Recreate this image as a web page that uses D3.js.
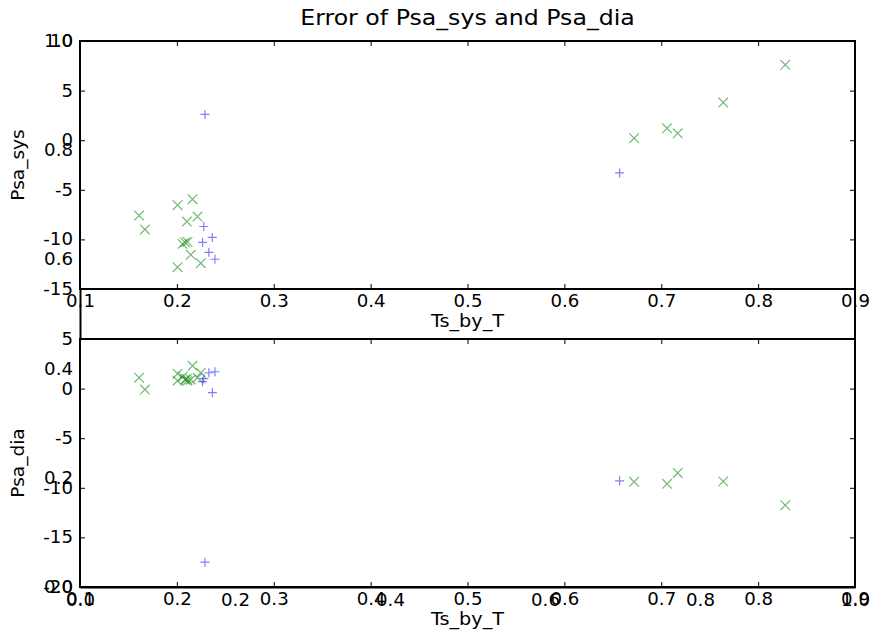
<!DOCTYPE html>
<html>
<head>
<meta charset="utf-8">
<script src="https://cdn.jsdelivr.net/npm/d3@7"></script>
<style>
  body { margin: 0; background: #fff; }
  svg text { font-family: "DejaVu Sans", sans-serif; fill: #000; }
  /* the reference text is a little wider than DejaVu renders it */
  svg text.wideR { transform-box: fill-box; transform-origin: right center; transform: scaleX(1.07); }
  svg text.wideC { transform-box: fill-box; transform-origin: center center; transform: scaleX(1.07); }
  svg text.wideT { transform-box: fill-box; transform-origin: center center; transform: scaleX(1.1); }
</style>
</head>
<body>
<div id="chart"></div>
<script>
// Data
const blueX   = [0.2265, 0.2278, 0.229, 0.233, 0.2366, 0.2393, 0.657];
const blueSys = [-10.3, -8.7, 2.6, -11.3, -9.8, -12.0, -3.3];
const blueDia = [0.7, 1.0, -17.5, 1.6, -0.4, 1.7, -9.3];

const greenX   = [0.161, 0.167, 0.2007, 0.2007, 0.2059, 0.2085, 0.2103, 0.211, 0.2144, 0.2162, 0.2213, 0.2247, 0.672, 0.706, 0.717, 0.764, 0.828];
const greenSys = [-7.6, -9.0, -6.55, -12.8, -10.45, -10.3, -8.2, -10.25, -11.55, -5.95, -7.7, -12.4, 0.2, 1.2, 0.7, 3.8, 7.6];
const greenDia = [1.1, -0.1, 1.5, 0.8, 1.2, 0.9, 1.0, 0.8, 0.9, 2.3, 1.1, 1.6, -9.4, -9.6, -8.5, -9.35, -11.75];

const xTicks = [0.1, 0.2, 0.3, 0.4, 0.5, 0.6, 0.7, 0.8, 0.9];
const sysTicks = [-15, -10, -5, 0, 5, 10];
const diaTicks = [-20, -15, -10, -5, 0, 5];
const figTicks = [0, 0.2, 0.4, 0.6, 0.8, 1.0];

const width = 871;
const height = 637;
const left = 80, right = 855;
const tickFont = "17px";

// plain hyphen minus like the reference
const intFmt = d => String(d);

const svg = d3.select("#chart")
  .append("svg")
  .attr("width", width)
  .attr("height", height);

const xScale = d3.scaleLinear().domain([0.1, 0.9]).range([left, right]);

// figure level axes that sits behind both subplots (0..1 on both sides)
const figX = d3.scaleLinear().domain([0, 1]).range([left, right]);
const figY = d3.scaleLinear().domain([0, 1]).range([587, 41]);

svg.append("g")
  .attr("transform", `translate(${left},0)`)
  .call(d3.axisLeft(figY).tickValues(figTicks).tickFormat(d3.format(".1f")).tickSize(0).tickPadding(7))
  .call(g => g.select(".domain").attr("stroke", "#000").attr("stroke-width", 2))
  .attr("font-size", tickFont)
  .call(g => g.selectAll("text").attr("class", "wideR"));

svg.append("g")
  .attr("transform", `translate(0,587)`)
  .call(d3.axisBottom(figX).tickValues(figTicks).tickFormat(d3.format(".1f")).tickSize(0).tickPadding(7))
  .call(g => g.select(".domain").attr("stroke", "#000").attr("stroke-width", 2))
  .attr("font-size", tickFont)
  .call(g => g.selectAll("text").attr("class", "wideC"));

svg.append("line")
  .attr("x1", right).attr("x2", right).attr("y1", 41).attr("y2", 587)
  .attr("stroke", "#000").attr("stroke-width", 2);

function drawPanel(top, bottom, yDomain, yTicks, yBlue, yGreen, yLabel) {
  const yScale = d3.scaleLinear().domain(yDomain).range([bottom, top]);
  const g = svg.append("g");

  // white background so the panel covers the figure axes
  g.append("rect")
    .attr("x", left).attr("y", top)
    .attr("width", right - left).attr("height", bottom - top)
    .attr("fill", "#fff");

  // left ticks with labels
  g.append("g")
    .attr("transform", `translate(${left},0)`)
    .call(d3.axisLeft(yScale).tickValues(yTicks).tickFormat(intFmt).tickSizeInner(-5).tickSizeOuter(0).tickPadding(7))
    .attr("font-size", tickFont)
    .call(a => a.select(".domain").remove())
    .call(a => a.selectAll("text").attr("class", "wideR"));

  // right ticks
  g.append("g")
    .attr("transform", `translate(${right},0)`)
    .call(d3.axisRight(yScale).tickValues(yTicks).tickSizeInner(-5).tickSizeOuter(0).tickFormat(""))
    .call(a => a.select(".domain").remove());

  // top ticks
  g.append("g")
    .attr("transform", `translate(0,${top})`)
    .call(d3.axisTop(xScale).tickValues(xTicks).tickSizeInner(-5).tickSizeOuter(0).tickFormat(""))
    .call(a => a.select(".domain").remove());

  // bottom ticks with labels
  g.append("g")
    .attr("transform", `translate(0,${bottom})`)
    .call(d3.axisBottom(xScale).tickValues(xTicks).tickSizeInner(-5).tickSizeOuter(0).tickPadding(6))
    .attr("font-size", tickFont)
    .call(a => a.select(".domain").remove())
    .call(a => a.selectAll("text").attr("class", "wideC"));

  // markers: blue plus
  g.selectAll(".plus")
    .data(blueX.map((x, i) => ({x: x, y: yBlue[i]})))
    .enter()
    .append("path")
      .attr("class", "plus")
      .attr("d", d => {
        const cx = xScale(d.x), cy = yScale(d.y), r = 4.5;
        return `M${cx - r},${cy}H${cx + r}M${cx},${cy - r}V${cy + r}`;
      })
      .attr("stroke", "#0000ff")
      .attr("stroke-opacity", 0.5)
      .attr("stroke-width", 1.2)
      .attr("fill", "none");

  // markers: green cross
  g.selectAll(".cross")
    .data(greenX.map((x, i) => ({x: x, y: yGreen[i]})))
    .enter()
    .append("path")
      .attr("class", "cross")
      .attr("d", d => {
        const cx = xScale(d.x), cy = yScale(d.y), r = 4.8;
        return `M${cx - r},${cy - r}L${cx + r},${cy + r}M${cx - r},${cy + r}L${cx + r},${cy - r}`;
      })
      .attr("stroke", "#008000")
      .attr("stroke-opacity", 0.55)
      .attr("stroke-width", 1.2)
      .attr("fill", "none");

  // frame
  g.append("rect")
    .attr("x", left).attr("y", top)
    .attr("width", right - left).attr("height", bottom - top)
    .attr("fill", "none").attr("stroke", "#000").attr("stroke-width", 2);

  // axis labels
  svg.append("text")
    .attr("class", "wideT")
    .attr("x", (left + right) / 2)
    .attr("y", bottom + 38)
    .attr("text-anchor", "middle")
    .attr("font-size", "17.5px")
    .text("Ts_by_T");

  svg.append("text")
    .attr("transform", `translate(24,${(top + bottom) / 2}) rotate(-90)`)
    .attr("text-anchor", "middle")
    .attr("font-size", "18.5px")
    .text(yLabel);
}

drawPanel(41, 289, [-15, 10], sysTicks, blueSys, greenSys, "Psa_sys");
drawPanel(339, 587, [-20, 5], diaTicks, blueDia, greenDia, "Psa_dia");

// title
svg.append("text")
  .attr("class", "wideT")
  .attr("x", (left + right) / 2)
  .attr("y", 25)
  .attr("text-anchor", "middle")
  .attr("font-size", "21.5px")
  .text("Error of Psa_sys and Psa_dia");
</script>
</body>
</html>
